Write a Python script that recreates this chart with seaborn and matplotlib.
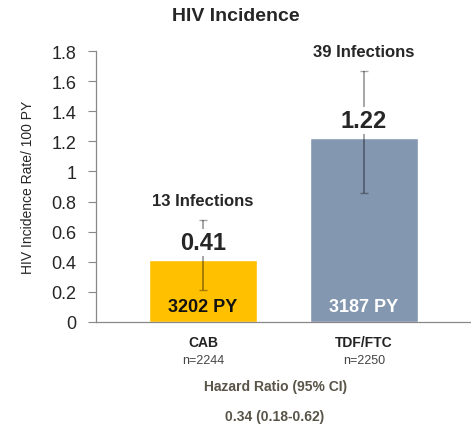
"""HIV incidence by arm: bar chart with 95% CI, infection counts and person-years."""

import matplotlib
matplotlib.use("Agg")
import matplotlib.pyplot as plt
import matplotlib.transforms as mtransforms
import numpy as np
import pandas as pd
import seaborn as sns

ARMS = ["CAB", "TDF/FTC"]
N_LABELS = ["n=2244", "n=2250"]
RATES = [0.41, 1.22]
CI_LOW = [0.21, 0.86]
CI_HIGH = [0.68, 1.67]
INFECTIONS = ["13 Infections", "39 Infections"]
PERSON_YEARS = ["3202 PY", "3187 PY"]
Y_TICKS = [0, 0.2, 0.4, 0.6, 0.8, 1.0, 1.2, 1.4, 1.6, 1.8]

BAR_COLORS = ["#FFC000", "#8497B0"]
PY_COLORS = ["#111111", "#FFFFFF"]
HR_COLOR = "#595448"

sns.set_style("white")
plt.rcParams["font.family"] = ["Liberation Sans", "DejaVu Sans"]

df = pd.DataFrame({"arm": ARMS, "rate": RATES})

fig = plt.figure(figsize=(4.71, 4.27), dpi=100)
ax = fig.add_axes([0.204, 0.2436, 0.796, 0.6345])

sns.barplot(data=df, x="arm", y="rate", hue="arm", palette=BAR_COLORS,
            width=0.67, saturation=1, legend=False, ax=ax, errorbar=None)

x = np.arange(len(ARMS))
rates = np.array(RATES)
yerr = np.vstack([rates - np.array(CI_LOW), np.array(CI_HIGH) - rates])
ax.errorbar(x, rates, yerr=yerr, fmt="none", ecolor=(0, 0, 0, 0.35),
            elinewidth=1.4, capsize=3, capthick=1.0, zorder=3)

# value, infection count and person-years labels
for i in range(len(ARMS)):
    ax.text(x[i], RATES[i] + 0.12, f"{RATES[i]:.2f}", ha="center", va="center",
            fontsize=17, fontweight="bold", zorder=4,
            bbox=dict(facecolor="white", edgecolor="none", pad=1.5))
    ax.text(x[i], CI_HIGH[i] + 0.13, INFECTIONS[i], ha="center", va="center",
            fontsize=12, fontweight="bold")
    ax.text(x[i], 0.1, PERSON_YEARS[i], ha="center", va="center",
            fontsize=13, fontweight="bold", color=PY_COLORS[i], zorder=4)

trans = mtransforms.blended_transform_factory(ax.transData, ax.transAxes)
for i in range(len(ARMS)):
    ax.text(x[i], -0.075, ARMS[i], transform=trans, ha="center", va="center",
            fontsize=10, fontweight="bold", color="#222222")
    ax.text(x[i], -0.142, N_LABELS[i], transform=trans, ha="center", va="center",
            fontsize=9, color="#444444")

fig.text(0.584, 0.093, "Hazard Ratio (95% CI)", ha="center", va="center",
         fontsize=10, fontweight="bold", color=HR_COLOR)
fig.text(0.584, 0.023, "0.34 (0.18-0.62)", ha="center", va="center",
         fontsize=10, fontweight="bold", color=HR_COLOR)

fig.text(0.5, 0.962, "HIV Incidence", ha="center", va="center",
         fontsize=14, fontweight="bold")

ax.set_xlim(-0.665, 1.665)
ax.set_ylim(0, 1.8)
ax.set_yticks(Y_TICKS)
ax.set_yticklabels([f"{t:g}" for t in Y_TICKS])
ax.set_xticks([])
ax.set_xlabel("")
ax.set_ylabel("HIV Incidence Rate/ 100 PY", fontsize=10, labelpad=12)
ax.tick_params(axis="y", left=True, length=6, width=0.8, color="#888888",
               labelsize=13, pad=8)

sns.despine(ax=ax, top=True, right=True)
for side in ["left", "bottom"]:
    ax.spines[side].set_color("#888888")
    ax.spines[side].set_linewidth(0.9)

fig.savefig("out.png", dpi=100)
